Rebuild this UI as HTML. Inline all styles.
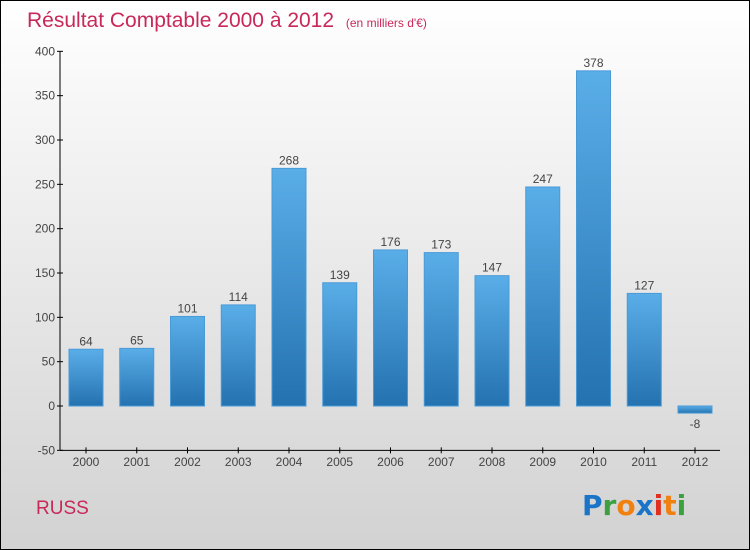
<!DOCTYPE html>
<html><head><meta charset="utf-8"><style>
body{margin:0;}
svg{display:block;font-family:"Liberation Sans",sans-serif;}
</style></head><body>
<svg id="chart" width="750" height="550" viewBox="0 0 750 550">
<defs>
<linearGradient id="bg" x1="0" y1="0" x2="0" y2="1"><stop offset="0" stop-color="#ffffff"/><stop offset="1" stop-color="#d2d2d2"/></linearGradient>
<linearGradient id="bar" x1="0" y1="0" x2="0" y2="1"><stop offset="0" stop-color="#5aaee8"/><stop offset="1" stop-color="#2472b0"/></linearGradient>
</defs>
<rect x="0.5" y="0.5" width="749" height="549" fill="url(#bg)" stroke="#000"/>
<text x="27" y="27" font-size="21" fill="#c8285a">Résultat Comptable 2000 à 2012 <tspan font-size="12" dx="6">(en milliers d'€)</tspan></text>
<text x="36" y="514" font-size="19" fill="#c8285a">RUSS</text>
<g font-size="28" font-weight="bold" font-family="'DejaVu Sans',sans-serif">
<text x="582" y="515"><tspan fill="#1a74c8">P</tspan><tspan fill="#3aa040">r</tspan><tspan fill="#f08010">o</tspan><tspan fill="#1a74c8">x</tspan><tspan fill="#e03020">i</tspan><tspan fill="#f08010">t</tspan><tspan fill="#3aa040">i</tspan></text>
</g>
<g id="axes"></g>
<g id="bars"></g>
</svg>
<script>
const categories=["2000","2001","2002","2003","2004","2005","2006","2007","2008","2009","2010","2011","2012"];
const values=[64,65,101,114,268,139,176,173,147,247,378,127,-8];
const yTicks=[-50,0,50,100,150,200,250,300,350,400];
const NS="http://www.w3.org/2000/svg";
const y0=406, pxPer=399/450;
function yS(v){return y0-v*pxPer;}
function xS(i){return 86+i*50.75;}
function mk(t,a,p){const e=document.createElementNS(NS,t);for(const k in a)e.setAttribute(k,a[k]);p.appendChild(e);return e;}
const ax=document.getElementById('axes'), bg=document.getElementById('bars');
const yl=mk('line',{x1:60,y1:yS(400),x2:60,y2:yS(-50),stroke:'#000'},ax);


const xl=mk('line',{x1:60,y1:yS(-50),x2:720,y2:yS(-50),stroke:'#000'},ax);


yTicks.forEach(v=>{
 const y=yS(v);
 mk('line',{x1:57,y1:y,x2:63,y2:y,stroke:'#000'},ax);
 const t=mk('text',{x:55,y:y+4,'text-anchor':'end','font-size':12,fill:'#444'},ax);
 t.textContent=v;
 
 
});
categories.forEach((c,i)=>{
 const x=xS(i), v=values[i];
 mk('line',{x1:x,y1:yS(-50)-3,x2:x,y2:yS(-50)+3,stroke:'#000'},ax);
 const t=mk('text',{x:x,y:466,'text-anchor':'middle','font-size':12,fill:'#444'},ax);
 t.textContent=c;
 
 
 const top=Math.min(yS(v),yS(0)), h=Math.max(Math.abs(yS(v)-yS(0)),1);
 const r=mk('rect',{x:x-17,y:top,width:34,height:h,fill:'url(#bar)',stroke:'#4a9ad8','stroke-width':1},bg);
 
 
 const l=mk('text',{x:x,y:v>=0?yS(v)-4:yS(v)+15,'text-anchor':'middle','font-size':12,fill:'#444'},bg);
 l.textContent=v;
 
 
});
</script>
</body></html>
